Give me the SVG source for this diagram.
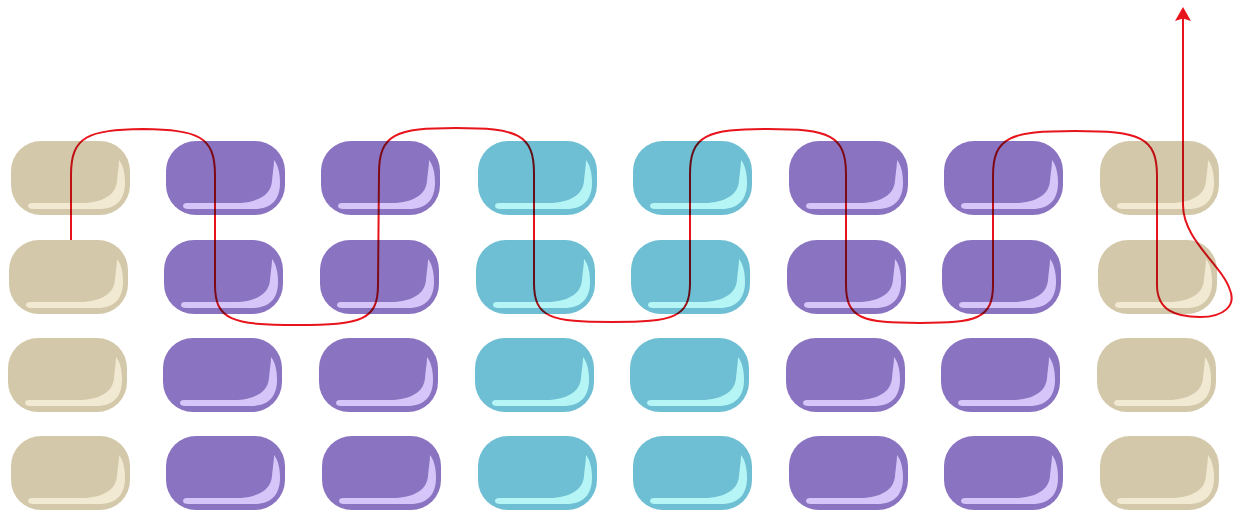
<svg xmlns="http://www.w3.org/2000/svg" width="1233" height="510" viewBox="0 0 1233 510">
<defs>
<style>
.tan .b{fill:#D3C9AA}.tan .h{fill:#F1E9D1}
.pur .b{fill:#8A73C0}.pur .h{fill:#D6C5F8}
.cyn .b{fill:#6EBFD3}.cyn .h{fill:#B5F5F5}
.route{fill:none;stroke:#E8141C;stroke-width:2}
#connectors{mix-blend-mode:multiply}
</style>
<marker id="ah" viewBox="0 0 14 16" refX="12" refY="8" markerWidth="14" markerHeight="16" markerUnits="userSpaceOnUse" orient="auto">
<path d="M14 8 L0 0 L2.5 8 L0 16 Z" fill="#E8141C"/>
</marker>
<path id="hl" d="M17 65 Q17 62 21 62 L75 62 C96 60 105 52 106 40 C107 30 108 24 108 19 C112 24 114 32 114 42 C114 58 106 68 88 68 L22 68 C19 68 17 67 17 65 Z"/>
</defs>
<rect width="1233" height="510" fill="#FFFFFF"/>
<g id="r0c0" class="tan" transform="translate(11 141)"><rect class="b" width="119" height="74" rx="30"/><path class="h" d="M17 65 Q17 62 21 62 L75 62 C96 60 105 52 106 40 C107 30 108 24 108 19 C112 24 114 32 114 42 C114 58 106 68 88 68 L22 68 C19 68 17 67 17 65 Z"/></g>
<g id="r0c1" class="pur" transform="translate(166 141)"><rect class="b" width="119" height="74" rx="30"/><path class="h" d="M17 65 Q17 62 21 62 L75 62 C96 60 105 52 106 40 C107 30 108 24 108 19 C112 24 114 32 114 42 C114 58 106 68 88 68 L22 68 C19 68 17 67 17 65 Z"/></g>
<g id="r0c2" class="pur" transform="translate(321 141)"><rect class="b" width="119" height="74" rx="30"/><path class="h" d="M17 65 Q17 62 21 62 L75 62 C96 60 105 52 106 40 C107 30 108 24 108 19 C112 24 114 32 114 42 C114 58 106 68 88 68 L22 68 C19 68 17 67 17 65 Z"/></g>
<g id="r0c3" class="cyn" transform="translate(478 141)"><rect class="b" width="119" height="74" rx="30"/><path class="h" d="M17 65 Q17 62 21 62 L75 62 C96 60 105 52 106 40 C107 30 108 24 108 19 C112 24 114 32 114 42 C114 58 106 68 88 68 L22 68 C19 68 17 67 17 65 Z"/></g>
<g id="r0c4" class="cyn" transform="translate(633 141)"><rect class="b" width="119" height="74" rx="30"/><path class="h" d="M17 65 Q17 62 21 62 L75 62 C96 60 105 52 106 40 C107 30 108 24 108 19 C112 24 114 32 114 42 C114 58 106 68 88 68 L22 68 C19 68 17 67 17 65 Z"/></g>
<g id="r0c5" class="pur" transform="translate(789 141)"><rect class="b" width="119" height="74" rx="30"/><path class="h" d="M17 65 Q17 62 21 62 L75 62 C96 60 105 52 106 40 C107 30 108 24 108 19 C112 24 114 32 114 42 C114 58 106 68 88 68 L22 68 C19 68 17 67 17 65 Z"/></g>
<g id="r0c6" class="pur" transform="translate(944 141)"><rect class="b" width="119" height="74" rx="30"/><path class="h" d="M17 65 Q17 62 21 62 L75 62 C96 60 105 52 106 40 C107 30 108 24 108 19 C112 24 114 32 114 42 C114 58 106 68 88 68 L22 68 C19 68 17 67 17 65 Z"/></g>
<g id="r0c7" class="tan" transform="translate(1100 141)"><rect class="b" width="119" height="74" rx="30"/><path class="h" d="M17 65 Q17 62 21 62 L75 62 C96 60 105 52 106 40 C107 30 108 24 108 19 C112 24 114 32 114 42 C114 58 106 68 88 68 L22 68 C19 68 17 67 17 65 Z"/></g>
<g id="r1c0" class="tan" transform="translate(9 240)"><rect class="b" width="119" height="74" rx="30"/><path class="h" d="M17 65 Q17 62 21 62 L75 62 C96 60 105 52 106 40 C107 30 108 24 108 19 C112 24 114 32 114 42 C114 58 106 68 88 68 L22 68 C19 68 17 67 17 65 Z"/></g>
<g id="r1c1" class="pur" transform="translate(164 240)"><rect class="b" width="119" height="74" rx="30"/><path class="h" d="M17 65 Q17 62 21 62 L75 62 C96 60 105 52 106 40 C107 30 108 24 108 19 C112 24 114 32 114 42 C114 58 106 68 88 68 L22 68 C19 68 17 67 17 65 Z"/></g>
<g id="r1c2" class="pur" transform="translate(320 240)"><rect class="b" width="119" height="74" rx="30"/><path class="h" d="M17 65 Q17 62 21 62 L75 62 C96 60 105 52 106 40 C107 30 108 24 108 19 C112 24 114 32 114 42 C114 58 106 68 88 68 L22 68 C19 68 17 67 17 65 Z"/></g>
<g id="r1c3" class="cyn" transform="translate(476 240)"><rect class="b" width="119" height="74" rx="30"/><path class="h" d="M17 65 Q17 62 21 62 L75 62 C96 60 105 52 106 40 C107 30 108 24 108 19 C112 24 114 32 114 42 C114 58 106 68 88 68 L22 68 C19 68 17 67 17 65 Z"/></g>
<g id="r1c4" class="cyn" transform="translate(631 240)"><rect class="b" width="119" height="74" rx="30"/><path class="h" d="M17 65 Q17 62 21 62 L75 62 C96 60 105 52 106 40 C107 30 108 24 108 19 C112 24 114 32 114 42 C114 58 106 68 88 68 L22 68 C19 68 17 67 17 65 Z"/></g>
<g id="r1c5" class="pur" transform="translate(787 240)"><rect class="b" width="119" height="74" rx="30"/><path class="h" d="M17 65 Q17 62 21 62 L75 62 C96 60 105 52 106 40 C107 30 108 24 108 19 C112 24 114 32 114 42 C114 58 106 68 88 68 L22 68 C19 68 17 67 17 65 Z"/></g>
<g id="r1c6" class="pur" transform="translate(942 240)"><rect class="b" width="119" height="74" rx="30"/><path class="h" d="M17 65 Q17 62 21 62 L75 62 C96 60 105 52 106 40 C107 30 108 24 108 19 C112 24 114 32 114 42 C114 58 106 68 88 68 L22 68 C19 68 17 67 17 65 Z"/></g>
<g id="r1c7" class="tan" transform="translate(1098 240)"><rect class="b" width="119" height="74" rx="30"/><path class="h" d="M17 65 Q17 62 21 62 L75 62 C96 60 105 52 106 40 C107 30 108 24 108 19 C112 24 114 32 114 42 C114 58 106 68 88 68 L22 68 C19 68 17 67 17 65 Z"/></g>
<g id="r2c0" class="tan" transform="translate(8 338)"><rect class="b" width="119" height="74" rx="30"/><path class="h" d="M17 65 Q17 62 21 62 L75 62 C96 60 105 52 106 40 C107 30 108 24 108 19 C112 24 114 32 114 42 C114 58 106 68 88 68 L22 68 C19 68 17 67 17 65 Z"/></g>
<g id="r2c1" class="pur" transform="translate(163 338)"><rect class="b" width="119" height="74" rx="30"/><path class="h" d="M17 65 Q17 62 21 62 L75 62 C96 60 105 52 106 40 C107 30 108 24 108 19 C112 24 114 32 114 42 C114 58 106 68 88 68 L22 68 C19 68 17 67 17 65 Z"/></g>
<g id="r2c2" class="pur" transform="translate(319 338)"><rect class="b" width="119" height="74" rx="30"/><path class="h" d="M17 65 Q17 62 21 62 L75 62 C96 60 105 52 106 40 C107 30 108 24 108 19 C112 24 114 32 114 42 C114 58 106 68 88 68 L22 68 C19 68 17 67 17 65 Z"/></g>
<g id="r2c3" class="cyn" transform="translate(475 338)"><rect class="b" width="119" height="74" rx="30"/><path class="h" d="M17 65 Q17 62 21 62 L75 62 C96 60 105 52 106 40 C107 30 108 24 108 19 C112 24 114 32 114 42 C114 58 106 68 88 68 L22 68 C19 68 17 67 17 65 Z"/></g>
<g id="r2c4" class="cyn" transform="translate(630 338)"><rect class="b" width="119" height="74" rx="30"/><path class="h" d="M17 65 Q17 62 21 62 L75 62 C96 60 105 52 106 40 C107 30 108 24 108 19 C112 24 114 32 114 42 C114 58 106 68 88 68 L22 68 C19 68 17 67 17 65 Z"/></g>
<g id="r2c5" class="pur" transform="translate(786 338)"><rect class="b" width="119" height="74" rx="30"/><path class="h" d="M17 65 Q17 62 21 62 L75 62 C96 60 105 52 106 40 C107 30 108 24 108 19 C112 24 114 32 114 42 C114 58 106 68 88 68 L22 68 C19 68 17 67 17 65 Z"/></g>
<g id="r2c6" class="pur" transform="translate(941 338)"><rect class="b" width="119" height="74" rx="30"/><path class="h" d="M17 65 Q17 62 21 62 L75 62 C96 60 105 52 106 40 C107 30 108 24 108 19 C112 24 114 32 114 42 C114 58 106 68 88 68 L22 68 C19 68 17 67 17 65 Z"/></g>
<g id="r2c7" class="tan" transform="translate(1097 338)"><rect class="b" width="119" height="74" rx="30"/><path class="h" d="M17 65 Q17 62 21 62 L75 62 C96 60 105 52 106 40 C107 30 108 24 108 19 C112 24 114 32 114 42 C114 58 106 68 88 68 L22 68 C19 68 17 67 17 65 Z"/></g>
<g id="r3c0" class="tan" transform="translate(11 436)"><rect class="b" width="119" height="74" rx="30"/><path class="h" d="M17 65 Q17 62 21 62 L75 62 C96 60 105 52 106 40 C107 30 108 24 108 19 C112 24 114 32 114 42 C114 58 106 68 88 68 L22 68 C19 68 17 67 17 65 Z"/></g>
<g id="r3c1" class="pur" transform="translate(166 436)"><rect class="b" width="119" height="74" rx="30"/><path class="h" d="M17 65 Q17 62 21 62 L75 62 C96 60 105 52 106 40 C107 30 108 24 108 19 C112 24 114 32 114 42 C114 58 106 68 88 68 L22 68 C19 68 17 67 17 65 Z"/></g>
<g id="r3c2" class="pur" transform="translate(322 436)"><rect class="b" width="119" height="74" rx="30"/><path class="h" d="M17 65 Q17 62 21 62 L75 62 C96 60 105 52 106 40 C107 30 108 24 108 19 C112 24 114 32 114 42 C114 58 106 68 88 68 L22 68 C19 68 17 67 17 65 Z"/></g>
<g id="r3c3" class="cyn" transform="translate(478 436)"><rect class="b" width="119" height="74" rx="30"/><path class="h" d="M17 65 Q17 62 21 62 L75 62 C96 60 105 52 106 40 C107 30 108 24 108 19 C112 24 114 32 114 42 C114 58 106 68 88 68 L22 68 C19 68 17 67 17 65 Z"/></g>
<g id="r3c4" class="cyn" transform="translate(633 436)"><rect class="b" width="119" height="74" rx="30"/><path class="h" d="M17 65 Q17 62 21 62 L75 62 C96 60 105 52 106 40 C107 30 108 24 108 19 C112 24 114 32 114 42 C114 58 106 68 88 68 L22 68 C19 68 17 67 17 65 Z"/></g>
<g id="r3c5" class="pur" transform="translate(789 436)"><rect class="b" width="119" height="74" rx="30"/><path class="h" d="M17 65 Q17 62 21 62 L75 62 C96 60 105 52 106 40 C107 30 108 24 108 19 C112 24 114 32 114 42 C114 58 106 68 88 68 L22 68 C19 68 17 67 17 65 Z"/></g>
<g id="r3c6" class="pur" transform="translate(944 436)"><rect class="b" width="119" height="74" rx="30"/><path class="h" d="M17 65 Q17 62 21 62 L75 62 C96 60 105 52 106 40 C107 30 108 24 108 19 C112 24 114 32 114 42 C114 58 106 68 88 68 L22 68 C19 68 17 67 17 65 Z"/></g>
<g id="r3c7" class="tan" transform="translate(1100 436)"><rect class="b" width="119" height="74" rx="30"/><path class="h" d="M17 65 Q17 62 21 62 L75 62 C96 60 105 52 106 40 C107 30 108 24 108 19 C112 24 114 32 114 42 C114 58 106 68 88 68 L22 68 C19 68 17 67 17 65 Z"/></g>
<g id="connectors">
<path class="route" marker-end="url(#ah)" d="M71 240 L71 175 C71 136 88 130 143 129 C198 130 215 136 215 175 L215 285 C215 320 232 325 297 325 C362 325 378 320 378 285 L379 173 C379 134 396 128 456 128 C517 128 534 134 534 173 L534 283 C534 318 551 322 612 322 C673 322 690 318 690 283 L690 174 C690 135 707 129 768 129 C829 129 846 135 846 174 L846 285 C846 319 863 323 920 323 C976 323 993 319 993 285 L993 176 C993 137 1010 131 1075 131 C1140 131 1157 137 1157 176 L1157 285 C1157 310 1175 317 1200 317 C1225 317 1236 305 1230 290 C1222 265 1183 240 1183 205 L1183 9"/>
</g>
</svg>
